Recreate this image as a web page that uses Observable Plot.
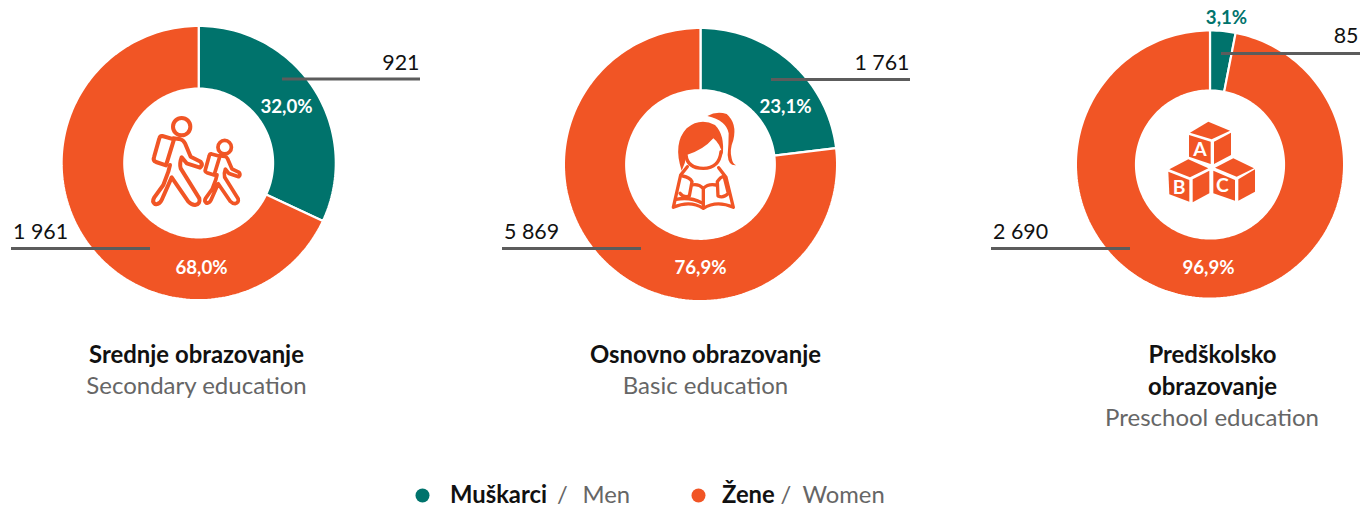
<!DOCTYPE html>
<html>
<head>
<meta charset="utf-8">
<script src="https://cdn.jsdelivr.net/npm/d3@7"></script>
<script src="https://cdn.jsdelivr.net/npm/@observablehq/plot@0.6"></script>
<style>html,body{margin:0;padding:0;background:#fff}svg{display:block}</style>
</head>
<body>
<div id="chart"></div>
<script>
const categories = ["Srednje obrazovanje", "Osnovno obrazovanje", "Predškolsko obrazovanje"];
const categoriesEn = ["Secondary education", "Basic education", "Preschool education"];
const men = [921, 1761, 85];
const women = [1961, 5869, 2690];
const menLabels = ["921", "1 761", "85"];
const womenLabels = ["1 961", "5 869", "2 690"];
const menPct = ["32,0%", "23,1%", "3,1%"];
const womenPct = ["68,0%", "76,9%", "96,9%"];
const series = ["Muškarci", "Žene"];
const seriesEn = ["Men", "Women"];

const TEAL = "#00736c", ORANGE = "#f15525", GREY = "#666666", LEAD = "#5c5c5c", INK = "#111111";
const donuts = [
  {cx: 198.2, cy: 162.5, R: 137.1, r: 74.4},
  {cx: 700, cy: 164, R: 136.6, r: 74.3},
  {cx: 1209.5, cy: 164, R: 134.1, r: 74}
];

// ring slices are derived from the values above
function ringRows() {
  const rows = [];
  donuts.forEach((d, i) => {
    const total = men[i] + women[i];
    const parts = [[series[0], 0, men[i] / total], [series[1], men[i] / total, 1]];
    parts.forEach(([s, a, b]) => {
      const n = Math.max(8, Math.ceil((b - a) * 240));
      const pt = (t, rad) => {
        const ang = (a + (b - a) * t) * 2 * Math.PI;
        return {key: i + s, series: s, x: d.cx + rad * Math.sin(ang), y: d.cy - rad * Math.cos(ang)};
      };
      for (let k = 0; k <= n; k++) rows.push(pt(k / n, d.R));
      for (let k = n; k >= 0; k--) rows.push(pt(k / n, d.r));
      rows.push(pt(0, d.R));
    });
  });
  return rows;
}

const leaders = [
  {x1: 282, x2: 420, y: 78.5}, {x1: 11, x2: 150, y: 248},
  {x1: 771, x2: 910, y: 79}, {x1: 502, x2: 641, y: 248},
  {x1: 1221, x2: 1360, y: 53}, {x1: 991, x2: 1130, y: 248}
];
const valueEnd = [
  {x: 419, y: 63, t: menLabels[0]}, {x: 909, y: 63, t: menLabels[1]}, {x: 1358, y: 36, t: menLabels[2]}
];
const valueStart = [
  {x: 12.5, y: 232, t: womenLabels[0]}, {x: 503.5, y: 232, t: womenLabels[1]}, {x: 992.5, y: 232, t: womenLabels[2]}
];
const pctWhite = [
  {x: 286, y: 106.5, t: menPct[0]}, {x: 201, y: 267.5, t: womenPct[0]},
  {x: 785, y: 106.5, t: menPct[1]}, {x: 700, y: 267.5, t: womenPct[1]},
  {x: 1208, y: 267.5, t: womenPct[2]}
];
const titles = [
  {x: 196, y: 354.5, t: categories[0]}, {x: 705, y: 354.5, t: categories[1]},
  {x: 1212, y: 354.5, t: "Predškolsko"}, {x: 1212, y: 386.5, t: "obrazovanje"}
];
const subs = [
  {x: 196, y: 386, t: categoriesEn[0]}, {x: 705, y: 386, t: categoriesEn[1]}, {x: 1211.5, y: 418, t: categoriesEn[2]}
];
const legendDots = [{x: 422, y: 495, s: series[0]}, {x: 698, y: 495, s: series[1]}];
const legendBold = [{x: 449.5, t: series[0]}, {x: 721.5, t: series[1]}];
const legendGrey = [{x: 556.5, t: "/"}, {x: 582, t: seriesEn[0]}, {x: 780, t: "/"}, {x: 802, t: seriesEn[1]}];

function icons(index, scales) {
  const svg = d3.create("svg:g");
  const place = (ox, oy) => svg.append("g")
    .attr("transform", `translate(${scales.x(ox)},${scales.y(oy)}) scale(${1/3})`);
  const person = "M160,115 L182,118 Q190,120 195,130 L212,170 L242,185 Q250,195 240,203 L200,190 L185,172 Q178,190 182,205 L238,295 Q242,312 225,315 Q215,315 205,305 L155,232 L125,300 Q118,315 105,312 Q95,305 103,292 L130,255 L145,215 L150,195";
  const pack = "M127,108 L162,118 L138,196 L108,186 Q98,182 102,172 L118,115 Q120,107 127,108 Z";
  const a = place(120, 100).attr("fill", "none").attr("stroke", ORANGE).attr("stroke-width", 12).attr("stroke-linejoin", "round").attr("stroke-linecap", "round");
  a.append("circle").attr("cx", 185).attr("cy", 80).attr("r", 26);
  a.append("path").attr("d", person);
  a.append("path").attr("d", pack);
  const s = a.append("g").attr("transform", "translate(183,84) scale(0.72)").attr("stroke-width", 15.5);
  s.append("circle").attr("cx", 182).attr("cy", 80).attr("r", 28);
  s.append("path").attr("d", person);
  s.append("path").attr("d", pack);

  const b = place(630, 100).attr("stroke-linejoin", "round").attr("stroke-linecap", "round");
  b.append("path").attr("fill", ORANGE).attr("d", "M155,212 Q128,130 170,85 Q210,52 255,75 Q285,105 278,165 Q270,130 250,115 Q220,150 170,165 Q166,190 155,212 Z");
  b.append("path").attr("fill", ORANGE).attr("d", "M232,48 Q260,32 290,42 Q322,70 310,120 Q298,150 305,175 Q308,192 318,196 Q295,198 293,165 Q296,130 296,100 Q290,62 232,48 Z");
  const bl = b.append("g").attr("fill", "none").attr("stroke", ORANGE).attr("stroke-width", 10);
  bl.append("path").attr("d", "M168,165 Q172,205 220,205 Q268,205 273,155");
  bl.append("path").attr("d", "M172,200 L152,225 L130,322 Q180,300 220,325 Q260,300 310,322 L288,232 L266,203");
  bl.append("path").attr("d", "M185,255 Q205,250 220,265 Q235,250 258,255");
  bl.append("path").attr("d", "M220,265 L220,322");
  bl.append("path").attr("d", "M158,228 Q180,232 186,245 L178,288 Q160,294 150,280");
  bl.append("path").attr("d", "M262,245 Q270,232 282,228 L295,280 Q280,296 264,288 Z");
  bl.append("path").attr("d", "M138,298 Q180,290 215,308");

  const c = place(1140, 100).attr("fill", ORANGE);
  ["M150,98 L205,65 L270,92 L215,118 Z", "M147,105 L212,125 L212,192 L147,170 Z", "M222,125 L273,98 L273,165 L222,192 Z",
   "M88,208 L145,178 L205,205 L150,232 Z", "M85,215 L148,240 L148,305 L88,283 Z", "M158,238 L208,212 L208,280 L158,307 Z",
   "M225,203 L280,175 L342,205 L290,230 Z", "M220,212 L285,240 L285,302 L220,280 Z", "M295,238 L345,208 L345,275 L295,302 Z"]
    .forEach(d => c.append("path").attr("d", d));
  [["A", 180, 168], ["B", 117, 283], ["C", 247, 276]].forEach(([t, x, y]) =>
    c.append("text").attr("x", x).attr("y", y).attr("fill", "#fff").attr("text-anchor", "middle")
      .attr("font-size", 58).attr("font-weight", 700).attr("font-family", "Lato").text(t));
  return svg.node();
}

const plot = Plot.plot({
  width: 1361, height: 507, margin: 0,
  x: {domain: [0, 1361], range: [0, 1361], axis: null},
  y: {domain: [0, 507], range: [0, 507], axis: null},
  color: {domain: series, range: [TEAL, ORANGE]},
  style: {fontFamily: "Lato, sans-serif", background: "#fff"},
  marks: [
    Plot.line(ringRows(), {x: "x", y: "y", z: "key", fill: "series", stroke: "#fff", strokeWidth: 2.2, curve: "linear"}),
    icons,
    Plot.ruleY(leaders, {x1: "x1", x2: "x2", y: "y", stroke: LEAD, strokeWidth: 3}),
    Plot.text(valueEnd, {x: "x", y: "y", text: "t", textAnchor: "end", fontSize: 21.4, fill: INK}),
    Plot.text(valueStart, {x: "x", y: "y", text: "t", textAnchor: "start", fontSize: 21.4, fill: INK}),
    Plot.text(pctWhite, {x: "x", y: "y", text: "t", fontSize: 18.7, fontWeight: 700, fill: "#fff"}),
    Plot.text([{x: 1226, y: 17.5, t: menPct[2]}], {x: "x", y: "y", text: "t", fontSize: 18.7, fontWeight: 700, fill: TEAL}),
    Plot.text(titles, {x: "x", y: "y", text: "t", fontSize: 23.9, fontWeight: 700, fill: INK}),
    Plot.text(subs, {x: "x", y: "y", text: "t", fontSize: 24, fill: GREY}),
    Plot.dot(legendDots, {x: "x", y: "y", r: 7, fill: "s"}),
    Plot.text(legendBold, {x: "x", y: () => 495.3, text: "t", textAnchor: "start", fontSize: 23.8, fontWeight: 700, fill: INK}),
    Plot.text(legendGrey, {x: "x", y: () => 495.3, text: "t", textAnchor: "start", fontSize: 23.8, fill: GREY})
  ]
});
document.getElementById("chart").append(plot);
</script>
</body>
</html>
